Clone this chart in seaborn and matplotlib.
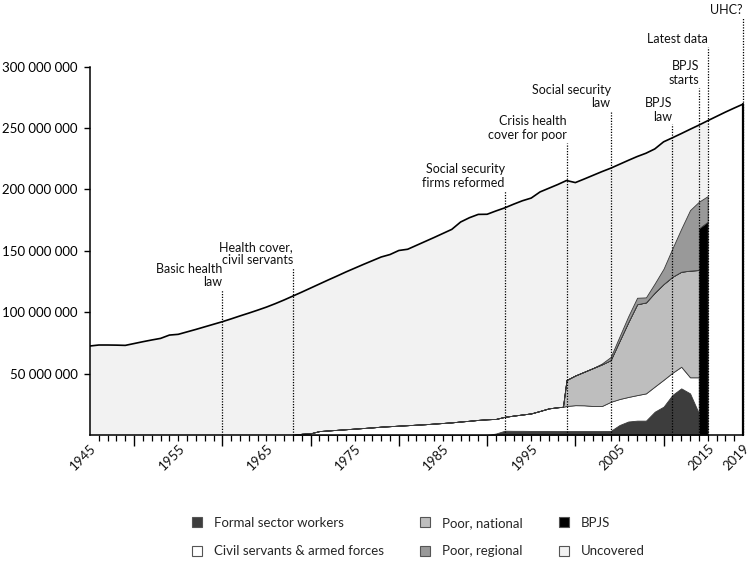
import matplotlib
matplotlib.use("Agg")
import matplotlib.pyplot as plt
import matplotlib.transforms as mtransforms
from matplotlib.lines import Line2D
import numpy as np
import pandas as pd
import seaborn as sns

# ---------------- data (millions of people) ----------------
pop_years = list(range(1945, 2020))
population = [72.5, 73.3, 73.3, 73.2, 73.0, 74.5, 76.0, 77.4, 78.7, 81.4,
              82.0, 84.0, 86.0, 88.1, 90.2, 92.3, 94.6, 97.0, 99.3, 101.7,
              104.2, 107.0, 110.0, 113.2, 116.4, 119.7, 123.0, 126.3, 129.5, 132.8,
              135.9, 139.0, 142.0, 145.0, 147.0, 150.3, 151.3, 154.5, 157.7, 160.9,
              164.2, 167.5, 173.5, 177.0, 179.7, 179.8, 182.5, 185.0, 188.0, 190.8,
              193.0, 198.0, 201.0, 204.0, 207.3, 205.6, 208.5, 211.5, 214.5, 217.3,
              220.5, 223.7, 226.8, 229.5, 233.0, 238.8, 242.1, 245.5, 249.0, 252.4,
              256.0, 259.5, 263.0, 266.3, 269.5]
latest_data_year = 2015

cov_years = list(range(1968, 1999)) + [1998.6] + list(range(1999, 2015)) + [2014, 2015]
formal = [0] * 22 + [0, 1.2, 3.5, 3.4, 3.4, 3.3, 3.3, 3.3, 3.2] + [3.2] + \
         [3.2, 3.2, 3.2, 3.2, 3.2, 3.3, 8.1, 11.0, 11.7, 11.7, 19.0, 23.1, 32.6, 38.0, 33.9, 17.6] + [0, 0]
civil = [0, 1.0, 1.4, 3.2, 3.7, 4.2, 4.7, 5.2, 5.7, 6.2, 6.8, 7.2, 7.6, 8.0, 8.4, 8.8,
         9.3, 9.8, 10.3, 11.0, 11.6, 12.3, 12.8, 11.9, 11.3, 12.4, 13.3, 14.3, 16.3, 18.4, 19.4] + [19.8] + \
        [20.4, 21.1, 21.0, 20.4, 20.4, 23.7, 21.2, 20.0, 20.8, 22.2, 20.5, 21.9, 18.1, 17.6, 13.1, 29.4] + [0, 0]
poor_national = [0] * 31 + [0] + \
        [21.2, 24.2, 27.3, 30.9, 33.9, 34.0, 47.3, 61.0, 74.0, 74.1, 76.5, 78.0, 78.2, 77.4, 86.9, 87.4] + [0, 0]
poor_regional = [0] * 36 + [0.7, 2.5, 3.6, 4.8, 5.3, 4.1, 7.5, 12.5, 23.1, 35.0, 49.3, 55.6] + [21.7, 20.9]
bpjs = [0] * 48 + [168.3, 173.7]

series_names = ["Formal sector workers", "Civil servants & armed forces", "Poor, national",
                "Poor, regional", "BPJS", "Uncovered"]

event_years = [1960, 1968, 1992, 1999, 2004, 2011, 2014, 2015, 2019]
event_labels = ["Basic health\nlaw", "Health cover,\ncivil servants", "Social security\nfirms reformed",
                "Crisis health\ncover for poor", "Social security\nlaw", "BPJS\nlaw", "BPJS\nstarts",
                "Latest data", "UHC?"]

xtick_labels = [1945, 1955, 1965, 1975, 1985, 1995, 2005, 2015, 2019]
ytick_values = [50, 100, 150, 200, 250, 300]

# ---------------- layout / style ----------------
label_tops = [118, 136, 199, 238, 264, 253, 283, 316, 340]   # top of each dotted line (millions)
colors = {"Formal sector workers": "#3d3d3d", "Civil servants & armed forces": "#ffffff",
          "Poor, national": "#bebebe", "Poor, regional": "#999999", "BPJS": "#000000",
          "Uncovered": "#f2f2f2"}

sns.set_theme(style="white")
plt.rcParams['font.family'] = ['Lato', 'DejaVu Sans']

M = 1e6
fig = plt.figure(figsize=(7.55, 5.64), dpi=100)
ax = fig.add_axes([90 / 755, 129 / 564, (743 - 90) / 755, (435 - 66.7) / 564])

# uncovered = area under population up to latest data
unc_years = [y for y in pop_years if y <= latest_data_year]
unc_pop = [p * M for y, p in zip(pop_years, population) if y <= latest_data_year]
ax.fill_between(unc_years, 0, unc_pop, color=colors["Uncovered"], lw=0, zorder=1)

stack = [np.array(s) * M for s in (formal, civil, poor_national, bpjs, poor_regional)]
ax.stackplot(cov_years, *stack,
             colors=[colors["Formal sector workers"], colors["Civil servants & armed forces"],
                     colors["Poor, national"], colors["BPJS"], colors["Poor, regional"]],
             edgecolor="#3a3a3a", linewidth=0.6, zorder=2)

df_pop = pd.DataFrame({"year": pop_years, "pop": np.array(population) * M})
sns.lineplot(data=df_pop, x="year", y="pop", color="black", lw=1.2, ax=ax, zorder=3)

# events
for yr, lab, top in zip(event_years, event_labels, label_tops):
    ax.plot([yr, yr], [0, top * M], color="black", lw=0.9, ls=(0, (1, 1.2)),
            clip_on=False, zorder=4)
    ax.text(yr, top * M + 1.5 * M, lab, ha="right", va="bottom", fontsize=9,
            linespacing=1.15, color="#111111", clip_on=False)
# solid end line at 2019 up to population
ax.plot([pop_years[-1], pop_years[-1]], [0, population[-1] * M], color="black", lw=1.6,
        zorder=5, clip_on=False)

ax.set_xlim(1945, 2019)
ax.set_ylim(0, 300 * M)
ax.set_xlabel("")
ax.set_ylabel("")
for s in ("top", "right"):
    ax.spines[s].set_visible(False)
for s in ("left", "bottom"):
    ax.spines[s].set_color("black")
    ax.spines[s].set_linewidth(1.1)

ax.set_yticks([v * M for v in ytick_values])
ax.set_yticklabels([f"{v * 1000000:,.0f}".replace(",", " ") for v in ytick_values])
ax.tick_params(axis="y", length=4, width=1, pad=5, labelsize=9.5, colors="black", left=True)

ax.set_xticks(list(range(1950, 2019, 10)))
ax.set_xticks(list(range(1946, 2019)), minor=True)
ax.tick_params(axis="x", which="major", length=8, width=1, labelbottom=False, bottom=True, color="black")
ax.tick_params(axis="x", which="minor", length=4, width=0.9, bottom=True, color="black")

trans = mtransforms.offset_copy(ax.get_xaxis_transform(), fig=fig, x=0, y=-7, units="dots")
for yr in xtick_labels:
    ax.text(yr, 0, str(yr), transform=trans, rotation=45, rotation_mode="anchor",
            ha="right", va="top", fontsize=9.5, color="#111111")

handles = []
order = ["Formal sector workers", "Civil servants & armed forces", "Poor, national",
         "Poor, regional", "BPJS", "Uncovered"]
for name in order:
    handles.append(Line2D([], [], marker="s", ls="", markersize=7.5,
                          markerfacecolor=colors[name], markeredgecolor="#555555",
                          markeredgewidth=0.8))
fig.legend(handles, order, ncol=3, loc="center", bbox_to_anchor=(0.553, 0.048),
           frameon=False, fontsize=9.5, columnspacing=2.6, handletextpad=0.8,
           handlelength=1.0, labelspacing=1.25)

fig.savefig("out.png", dpi=100)
